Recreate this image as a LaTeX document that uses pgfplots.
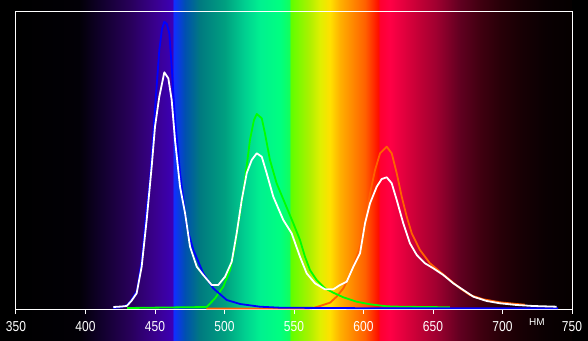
\documentclass[border=0pt]{standalone}
\usepackage{fontspec}
\setmainfont{Liberation Sans}
\usepackage{graphicx}
\usepackage{pgfplots}
\pgfplotsset{compat=1.18}
\definecolor{s00}{RGB}{0,0,0}
\definecolor{s01}{RGB}{2,0,6}
\definecolor{s02}{RGB}{16,0,42}
\definecolor{s03}{RGB}{40,0,90}
\definecolor{s04}{RGB}{58,0,144}
\definecolor{s05}{RGB}{60,0,180}
\definecolor{s06}{RGB}{16,48,255}
\definecolor{s07}{RGB}{0,80,176}
\definecolor{s08}{RGB}{0,122,128}
\definecolor{s09}{RGB}{0,160,128}
\definecolor{s10}{RGB}{0,208,144}
\definecolor{s11}{RGB}{0,240,144}
\definecolor{s12}{RGB}{0,255,128}
\definecolor{s13}{RGB}{16,255,96}
\definecolor{s14}{RGB}{96,255,0}
\definecolor{s15}{RGB}{176,240,0}
\definecolor{s16}{RGB}{224,240,0}
\definecolor{s17}{RGB}{255,224,0}
\definecolor{s18}{RGB}{255,176,0}
\definecolor{s19}{RGB}{255,144,0}
\definecolor{s20}{RGB}{255,96,0}
\definecolor{s21}{RGB}{255,16,0}
\definecolor{s22}{RGB}{255,0,48}
\definecolor{s23}{RGB}{255,0,69}
\definecolor{s24}{RGB}{192,0,53}
\definecolor{s25}{RGB}{160,0,48}
\definecolor{s26}{RGB}{96,0,32}
\definecolor{s27}{RGB}{64,0,16}
\definecolor{s28}{RGB}{40,0,8}
\definecolor{s29}{RGB}{24,0,4}
\definecolor{s30}{RGB}{10,0,2}
\definecolor{s31}{RGB}{5,0,0}
\pgfdeclarehorizontalshading{spectrum}{100bp}{color(0bp)=(s00); color(25bp)=(s00); color(30.66bp)=(s01); color(32.55bp)=(s02); color(35.25bp)=(s03); color(37.59bp)=(s04); color(39.03bp)=(s05); color(39.21bp)=(s06); color(40.20bp)=(s07); color(41.55bp)=(s08); color(43.80bp)=(s09); color(45.59bp)=(s10); color(46.94bp)=(s11); color(48.75bp)=(s12); color(49.55bp)=(s13); color(49.73bp)=(s14); color(51.44bp)=(s15); color(52.34bp)=(s16); color(53.24bp)=(s17); color(54.14bp)=(s18); color(55.04bp)=(s19); color(56.39bp)=(s20); color(57.55bp)=(s21); color(57.74bp)=(s22); color(58.63bp)=(s23); color(61.33bp)=(s24); color(62.76bp)=(s25); color(64.93bp)=(s26); color(66.73bp)=(s27); color(68.53bp)=(s28); color(70.33bp)=(s29); color(72.58bp)=(s30); color(75bp)=(s31); color(100bp)=(s31)}
\definecolor{cblue}{RGB}{0,0,255}
\definecolor{cgreen}{RGB}{0,255,0}
\definecolor{corange}{RGB}{255,96,0}
\begin{document}
\begin{tikzpicture}
\useasboundingbox (-16pt,-31pt) rectangle (572pt,309pt);
\fill[black] (-20pt,-35pt) rectangle (576pt,313pt);
\shade[shading=spectrum] (0pt,-35pt) rectangle (556pt,313pt);
\begin{axis}[at={(0pt,0pt)}, anchor=south west, scale only axis,
  width=556pt, height=297pt,
  xmin=350, xmax=750, ymin=0, ymax=297,
  clip mode=individual,
  axis line style={white, line width=1pt},
  xtick={350,400,...,750}, ytick=\empty,
  xtick pos=lower, xtick align=outside, major tick length=5pt,
  tick style={white, line width=1pt},
  /pgf/number format/assume math mode=true,
  xticklabel style={text=white, font=\fontsize{12}{12}\selectfont, yshift=-4pt},
  xticklabel={\scalebox{1}[1.2]{\pgfmathprintnumber[1000 sep={}]{\tick}}},
  every axis plot/.append style={line width=1.8pt, line join=round}]
\addplot[corange] coordinates {(487,0.5) (560,0.5) (563.7,1) (568.7,3) (575.9,6.3) (580.7,12.3) (585.5,20.7) (587.9,27.3) (592.7,42.3) (597.5,62.3) (601.1,89) (604.7,115.7) (608.3,139) (611.9,155.7) (616.7,162.3) (620.3,155.7) (623.9,135.7) (627.5,112.3) (631.1,92.3) (634.7,75.7) (640.6,59) (647.8,45.7) (655,37.3) (662.2,29) (669.4,20.7) (676.6,14) (686.2,9.7) (698.2,6.7) (710.2,5) (716.2,4.3)};
\addplot[cgreen] coordinates {(430,1) (487.2,2) (493.2,10.7) (499.1,22.3) (504,39) (507.5,62.3) (511.1,95.7) (514.7,129) (518.3,169) (521.2,189) (523.2,195) (526.8,190.7) (529.1,175.7) (532.7,149) (537.5,125.7) (543.5,105.7) (549.5,85.7) (554.3,69) (557.9,52.3) (561.5,39) (566.3,29) (572.3,20.7) (578.3,16.3) (585.5,11.7) (595.1,7.3) (604.7,4.7) (616.7,2.7) (626.2,2.3) (662.2,1.7)};
\addplot[cblue] coordinates {(420,1) (426,2) (430,4) (433,9) (437,18) (440.4,48) (444,100) (446.4,129) (448,160) (450,200) (453.1,259) (455,280) (456.7,287.3) (458.5,285) (460.3,275.7) (462,242.3) (464.4,189) (468,136) (472.8,82.3) (477.6,59) (484.7,35.7) (491.9,20.7) (501.6,9) (511.2,5) (525.5,2.3) (539.9,1.3) (600,0.8) (740,0.8)};
\addplot[white] coordinates {(420,2) (426,2.5) (429.6,3) (433,8) (436.8,15.7) (440.4,42.3) (444,89) (447.6,142.3) (450,182.3) (453.1,212.3) (456.7,236.7) (459.6,230.7) (462,209) (464.4,169) (468,122.3) (471.6,96) (475.2,62.3) (480,42.3) (484.7,34) (490.8,24) (495.5,24) (500.4,32.3) (505.2,47.3) (508.8,76) (512.4,109) (516,136) (519.6,149) (523.2,155.7) (526.8,152.3) (530.3,136) (535.1,112.3) (542.3,89) (548.3,75.7) (554.3,52.3) (559.1,35.7) (565.1,25.7) (572.3,19.7) (578.3,19.7) (583.1,24) (587.9,27.3) (592.7,42.3) (597.5,55.7) (601.1,85.7) (604.7,105.7) (609.5,122.3) (613.1,130) (616.7,131.7) (620.3,125.7) (623.9,109) (628.6,85.7) (633.4,65.7) (638.3,54) (644.2,45.7) (650.2,40.7) (657.4,34) (664.6,25.7) (671.8,19) (679,12.3) (688.6,8) (698.2,5.7) (710.2,4) (722.1,3) (739,2.3)};
\node[text=white, font=\fontsize{10}{10}\selectfont] at (axis cs:724.8,0) [yshift=-13pt] {НМ};
\end{axis}
\end{tikzpicture}
\end{document}
